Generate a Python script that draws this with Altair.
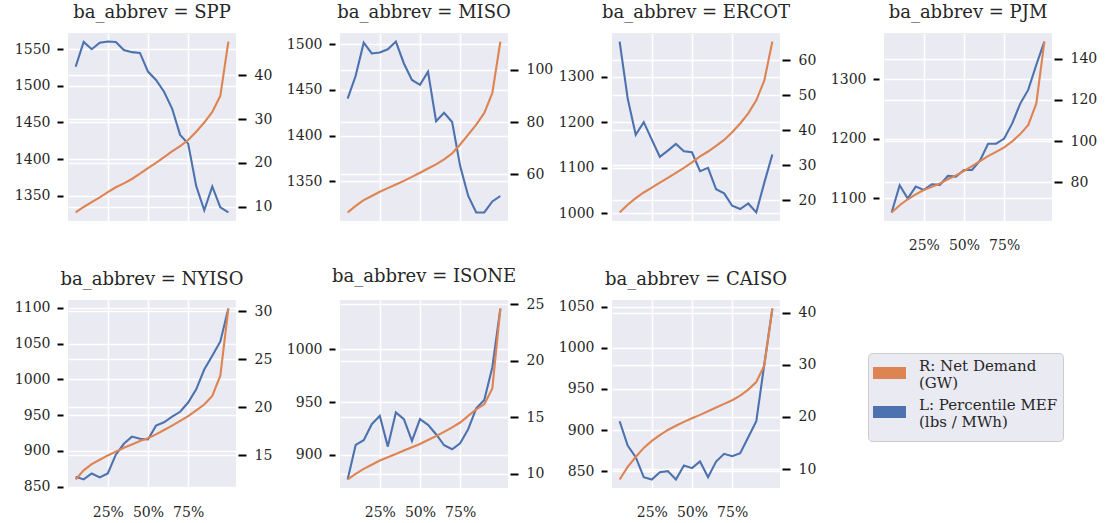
import altair as alt
import pandas as pd

# ---------------- data ----------------
PCT = [0.05, 0.10, 0.15, 0.20, 0.25, 0.30, 0.35, 0.40, 0.45, 0.50,
       0.55, 0.60, 0.65, 0.70, 0.75, 0.80, 0.85, 0.90, 0.95, 1.00]

BAS = ["SPP", "MISO", "ERCOT", "PJM", "NYISO", "ISONE", "CAISO"]

SPP_MEF = [1526, 1560, 1550, 1559, 1560.5, 1560, 1549, 1546, 1545, 1519.5,
           1508, 1492, 1469, 1433, 1421, 1363, 1330, 1362.5, 1334, 1327]
SPP_ND = [8.65, 9.9, 11.0, 12.1, 13.3, 14.4, 15.3, 16.3, 17.5, 18.8,
          20.0, 21.3, 22.6, 23.8, 25.2, 27.1, 29.2, 31.6, 35.3, 47.7]

MISO_MEF = [1440.5, 1465.5, 1501.8, 1490, 1491, 1494.5, 1503, 1479, 1461, 1455.7,
            1470, 1415.8, 1425, 1415, 1366.7, 1334, 1316, 1316, 1328, 1334]
MISO_ND = [45.4, 47.9, 50.1, 51.7, 53.3, 54.7, 56.1, 57.5, 59.0, 60.6,
           62.2, 63.8, 65.7, 68.0, 71.4, 75.2, 79.0, 83.5, 91.1, 110.8]

ERCOT_MEF = [1377.7, 1252.8, 1172.9, 1200.5, 1162, 1124.3, 1138, 1152.6, 1136.6, 1134.4,
             1092.7, 1100, 1053, 1044, 1016.7, 1009.4, 1021.8, 1002, 1067.6, 1129.3]
ERCOT_ND = [16.5, 18.7, 20.6, 22.2, 23.6, 25.0, 26.4, 27.8, 29.2, 30.8,
            32.5, 33.9, 35.5, 37.2, 39.4, 41.9, 44.8, 48.5, 54.2, 65.3]

PJM_MEF = [1076, 1121.7, 1099.4, 1119.5, 1113.9, 1123.4, 1122.3, 1137.3, 1136.2, 1147.4,
           1147.4, 1163.5, 1191.4, 1191.4, 1200, 1225.5, 1258.8, 1282.2, 1324, 1363]
PJM_ND = [65.4, 68.9, 71.8, 74.2, 76.3, 77.8, 79.4, 81.5, 83.4, 85.5,
          87.9, 90.3, 92.7, 94.8, 97.0, 99.9, 103.4, 107.9, 118.3, 148.3]

NYISO_MEF = [863.8, 860.1, 868.5, 862.9, 868.5, 894.7, 910, 920, 916.9, 916,
             935.3, 940, 947.8, 954.7, 967.6, 986, 1013.7, 1033, 1053, 1099]
NYISO_ND = [12.5, 13.45, 14.1, 14.55, 15.0, 15.4, 15.8, 16.15, 16.5, 16.8,
            17.2, 17.65, 18.1, 18.6, 19.1, 19.7, 20.3, 21.2, 23.3, 30.3]

ISONE_MEF = [876.9, 909.5, 913.9, 929.1, 937, 907.9, 940.2, 933.9, 913.3, 933.9,
             928.5, 919.6, 909.2, 905.4, 911, 924.4, 944, 951.9, 982.9, 1038.3]
ISONE_ND = [9.5, 10.0, 10.44, 10.8, 11.17, 11.46, 11.75, 12.05, 12.34, 12.63,
            12.98, 13.33, 13.71, 14.1, 14.53, 15.12, 15.7, 16.14, 17.54, 24.6]

CAISO_MEF = [910.6, 881.1, 867, 842.7, 839.9, 848.8, 850, 839.9, 856.9, 853.6,
             861.7, 842.7, 861.7, 871, 868.2, 871.8, 891.2, 910.6, 980.1, 1047.6]
CAISO_ND = [8.0, 10.4, 12.3, 14.05, 15.4, 16.5, 17.5, 18.3, 19.05, 19.75,
            20.4, 21.1, 21.8, 22.5, 23.2, 24.1, 25.25, 26.7, 29.9, 40.8]

LEFT_TICKS = {
    "SPP": [1350, 1400, 1450, 1500, 1550],
    "MISO": [1350, 1400, 1450, 1500],
    "ERCOT": [1000, 1100, 1200, 1300],
    "PJM": [1100, 1200, 1300],
    "NYISO": [850, 900, 950, 1000, 1050, 1100],
    "ISONE": [900, 950, 1000],
    "CAISO": [850, 900, 950, 1000, 1050],
}
RIGHT_TICKS = {
    "SPP": [10, 20, 30, 40],
    "MISO": [60, 80, 100],
    "ERCOT": [20, 30, 40, 50, 60],
    "PJM": [80, 100, 120, 140],
    "NYISO": [15, 20, 25, 30],
    "ISONE": [10, 15, 20, 25],
    "CAISO": [10, 20, 30, 40],
}
X_TICKS = [0.25, 0.50, 0.75]
SHOW_X = {"SPP": False, "MISO": False, "ERCOT": False, "PJM": True,
          "NYISO": True, "ISONE": True, "CAISO": True}

SERIES = {
    "SPP": (SPP_MEF, SPP_ND), "MISO": (MISO_MEF, MISO_ND),
    "ERCOT": (ERCOT_MEF, ERCOT_ND), "PJM": (PJM_MEF, PJM_ND),
    "NYISO": (NYISO_MEF, NYISO_ND), "ISONE": (ISONE_MEF, ISONE_ND),
    "CAISO": (CAISO_MEF, CAISO_ND),
}

LBL_ND = "R: Net Demand|(GW)"
LBL_MEF = "L: Percentile MEF|(lbs / MWh)"
ORANGE = "#DD8452"
BLUE = "#4C72B0"
FONT = "DejaVu Serif"
TXT = "#262626"
TICK = "black"

PW, PH = 168, 188


def padded(vals, frac=0.05):
    lo, hi = min(vals), max(vals)
    r = hi - lo
    return [lo - frac * r, hi + frac * r]


color_scale = alt.Scale(domain=[LBL_ND, LBL_MEF], range=[ORANGE, BLUE])
legend = alt.Legend(title=None, labelExpr="split(datum.label, '|')")


def panel(name):
    mef, nd = SERIES[name]
    df = pd.DataFrame({"pct": PCT, "mef": mef, "nd": nd,
                       "s_mef": LBL_MEF, "s_nd": LBL_ND})
    xdom = padded(PCT)
    x = alt.X("pct:Q",
              scale=alt.Scale(domain=xdom, nice=False, zero=False),
              axis=alt.Axis(values=X_TICKS, format=".0%", labels=SHOW_X[name],
                            ticks=False, grid=True, labelPadding=17, title=None,
                            domain=False))
    blue = alt.Chart(df).mark_line(strokeWidth=2.1).encode(
        x=x,
        y=alt.Y("mef:Q",
                scale=alt.Scale(domain=padded(mef), nice=False, zero=False),
                axis=alt.Axis(orient="left", values=LEFT_TICKS[name], title=None,
                              format="d", ticks=True, tickColor=TICK,
                              tickSize=6, tickWidth=2, tickOpacity=1,
                              offset=5, labelPadding=7,
                              minExtent=50, grid=True, domain=False)),
        color=alt.Color("s_mef:N", scale=color_scale, legend=legend),
    )
    orange = alt.Chart(df).mark_line(strokeWidth=2.1).encode(
        x=x,
        y=alt.Y("nd:Q",
                scale=alt.Scale(domain=padded(nd), nice=False, zero=False),
                axis=alt.Axis(orient="right", values=RIGHT_TICKS[name], title=None,
                              format="d", ticks=True, tickColor=TICK,
                              tickSize=8, tickWidth=2, tickOpacity=1,
                              offset=2, labelPadding=8,
                              minExtent=44, grid=True, domain=False)),
        color=alt.Color("s_nd:N", scale=color_scale, legend=legend),
    )
    return alt.layer(blue, orange).resolve_scale(y="independent").properties(
        width=PW, height=PH,
        title=alt.TitleParams(text=f"ba_abbrev = {name}"),
    )


PAD_L, PAD_T = 13, 4

chart = alt.concat(
    *[panel(b) for b in BAS], columns=4, spacing={"row": 16, "column": 3}
).properties(
    padding={"left": PAD_L, "top": PAD_T, "right": 5, "bottom": 0},
    background="white",
).configure_view(
    fill="#EAEAF2", strokeWidth=0,
).configure_axis(
    labelFont=FONT, labelFontSize=14, labelColor=TXT,
    gridColor="white", gridWidth=1.5, gridOpacity=1,
).configure_title(
    font=FONT, fontSize=18, fontWeight="normal", color=TXT,
    anchor="middle", offset=11, baseline="alphabetic",
).configure_legend(
    orient="none", legendX=800, legendY=320,
    fillColor="#EAEAF2", strokeColor="#CCCCCC", cornerRadius=4,
    padding=5, labelFont=FONT, labelFontSize=15, labelColor=TXT,
    labelOffset=31, labelBaseline="middle",
    symbolType="M-15,15L51,15", symbolSize=1, symbolStrokeWidth=12,
    symbolOpacity=1, rowPadding=-11, labelLimit=300,
)

chart.save("out.html", embed_options={"renderer": "svg", "actions": False})
